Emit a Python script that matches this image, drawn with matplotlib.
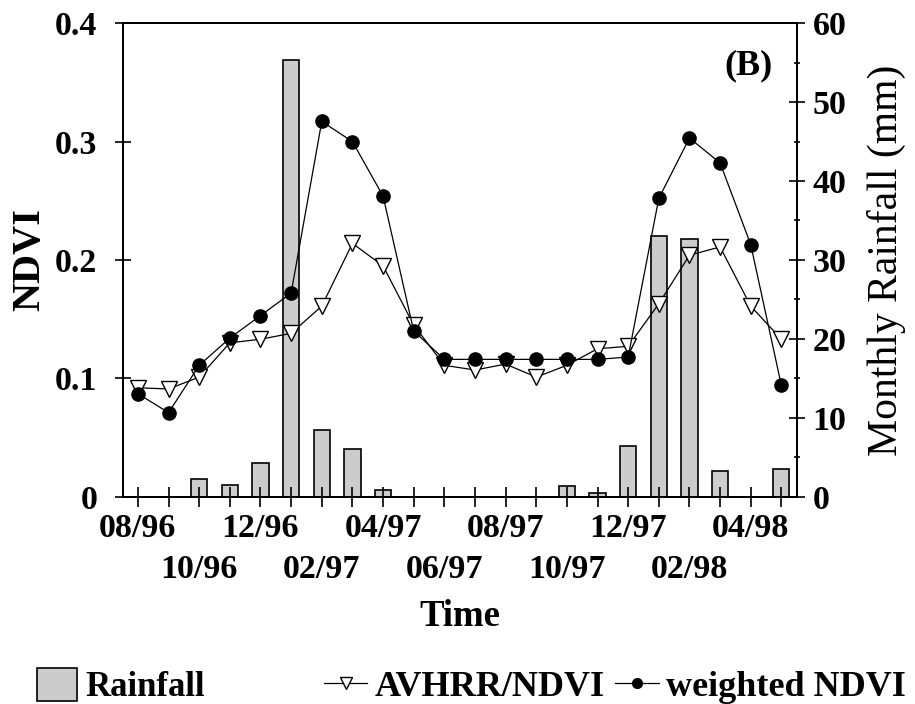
import numpy as np
from matplotlib import pyplot as plt
from matplotlib.patches import Patch
from matplotlib.lines import Line2D
from matplotlib.ticker import FixedLocator, FixedFormatter

plt.rcParams['font.family'] = ['Liberation Serif', 'DejaVu Serif']

# monthly series, 08/96 .. 05/98
months = ['08/96', '09/96', '10/96', '11/96', '12/96', '01/97', '02/97', '03/97',
          '04/97', '05/97', '06/97', '07/97', '08/97', '09/97', '10/97', '11/97',
          '12/97', '01/98', '02/98', '03/98', '04/98', '05/98']
weighted_ndvi = [0.087, 0.071, 0.111, 0.134, 0.153, 0.172, 0.317, 0.300, 0.254, 0.140,
                 0.116, 0.116, 0.116, 0.116, 0.116, 0.116, 0.118, 0.252, 0.303, 0.282,
                 0.213, 0.094]
avhrr_ndvi = [0.092, 0.091, 0.101, 0.130, 0.133, 0.138, 0.161, 0.214, 0.195, 0.145,
              0.111, 0.107, 0.112, 0.101, 0.111, 0.125, 0.127, 0.163, 0.204, 0.211,
              0.161, 0.133]
rainfall = [0, 0, 2.3, 1.5, 4.3, 55.4, 8.4, 6.0, 0.85, 0, 0, 0, 0, 0, 1.3, 0.45,
            6.4, 33.0, 32.6, 3.3, 0, 3.5]

ndvi_ticks = [0, 0.1, 0.2, 0.3, 0.4]
ndvi_labels = ['0', '0.1', '0.2', '0.3', '0.4']
rain_ticks = [0, 10, 20, 30, 40, 50, 60]

x = np.arange(len(months))

fig = plt.figure(figsize=(9.15, 7.04), dpi=100)
ax = fig.add_axes([0.134, 0.2945, 0.7367, 0.6725])
ax2 = ax.twinx()
ax.set_zorder(ax2.get_zorder() + 1)
ax.patch.set_visible(False)

# rainfall bars (right axis)
ax2.bar(x, rainfall, width=0.53, color='#cccccc', edgecolor='black', linewidth=1.2)
ax2.set_ylim(0, 60)
ax2.set_yticks(rain_ticks)
ax2.set_yticks(np.arange(5, 60, 10), minor=True)
ax2.tick_params(axis='y', which='major', direction='inout', length=11, width=1.2,
                labelsize=24.5, pad=6)
ax2.tick_params(axis='y', which='minor', direction='inout', length=5, width=1.2)
for lab in ax2.get_yticklabels():
    lab.set_fontweight('bold')
ax2.set_ylabel('Monthly Rainfall (mm)', fontsize=30, labelpad=15)

# NDVI lines (left axis)
ax.plot(x, avhrr_ndvi, color='black', linewidth=0.9, marker='v', markersize=11,
        markerfacecolor='white', markeredgecolor='black', markeredgewidth=1.0)
ax.plot(x, weighted_ndvi, color='black', linewidth=0.9, marker='o', markersize=9.5,
        markerfacecolor='black', markeredgecolor='black')

ax.set_xlim(-0.5, 21.5)
ax.set_ylim(0, 0.4)
ax.set_yticks(ndvi_ticks)
ax.set_yticklabels(ndvi_labels, fontweight='bold')
ax.tick_params(axis='y', direction='inout', length=12, width=1.2, labelsize=24.5, pad=12)

# first row of month labels on major ticks, second row on minor ticks
major_idx = [i for i in x if i % 4 == 0]
minor_idx = [i for i in x if i % 4 != 0]
ax.xaxis.set_major_locator(FixedLocator(major_idx))
ax.xaxis.set_major_formatter(FixedFormatter([months[i] for i in major_idx]))
ax.xaxis.set_minor_locator(FixedLocator(minor_idx))
ax.xaxis.set_minor_formatter(FixedFormatter([months[i] if i % 4 == 2 else ''
                                             for i in minor_idx]))
ax.tick_params(axis='x', which='both', direction='inout', length=14, width=1.2,
               labelsize=24.5)
ax.tick_params(axis='x', which='major', pad=5)
ax.tick_params(axis='x', which='minor', pad=34)
for lab in ax.get_xticklabels(which='both'):
    lab.set_fontweight('bold')

ax.set_ylabel('NDVI', fontsize=29, fontweight='bold', labelpad=5)
ax.set_xlabel('Time', fontsize=26.5, fontweight='bold', labelpad=10)

for a in (ax, ax2):
    for s in a.spines.values():
        s.set_linewidth(1.3)

ax.text(0.928, 0.91, '(B)', transform=ax.transAxes, ha='center', va='center',
        fontsize=26, fontweight='bold')

# legends below the plot
rain_handle = Patch(facecolor='#cccccc', edgecolor='black', linewidth=1.2)
fig.legend([rain_handle], ['Rainfall'], loc='lower left',
           bbox_to_anchor=(0.04, 0.0), frameon=False, borderpad=0,
           borderaxespad=0, handlelength=1.15, handleheight=1.1,
           handletextpad=0.25, prop={'size': 25, 'weight': 'bold'})

line_handles = [
    Line2D([], [], color='black', linewidth=0.9, marker='v', markersize=8,
           markerfacecolor='white', markeredgecolor='black'),
    Line2D([], [], color='black', linewidth=0.9, marker='o', markersize=7,
           markerfacecolor='black'),
]
fig.legend(line_handles, ['AVHRR/NDVI', 'weighted NDVI'], loc='lower right',
           bbox_to_anchor=(0.99, 0.0), frameon=False, ncol=2, borderpad=0,
           borderaxespad=0, handlelength=1.2, handletextpad=0.2, columnspacing=0.3,
           prop={'size': 26, 'weight': 'bold'})

fig.savefig('out.png', dpi=100)
